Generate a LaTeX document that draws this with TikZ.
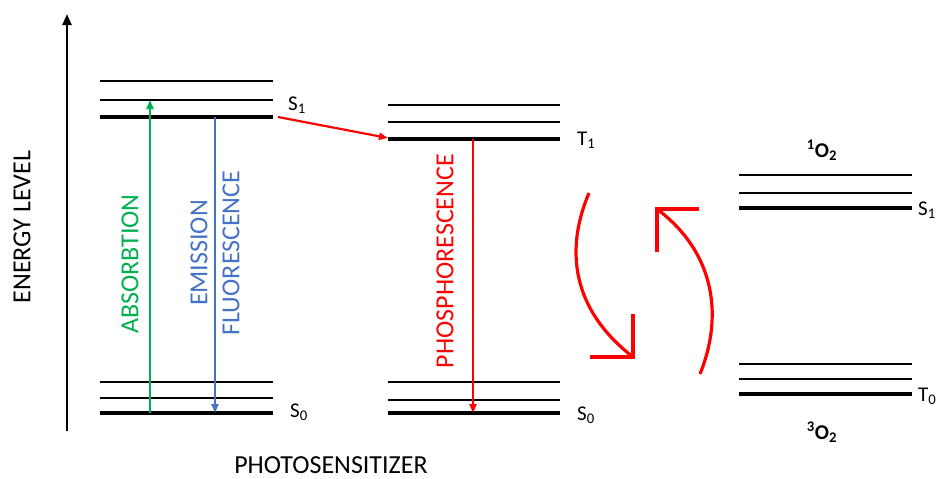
\documentclass[tikz,border=0pt]{standalone}
\usepackage{fontspec}
\setmainfont{Carlito}
\usetikzlibrary{arrows.meta}
\definecolor{absgreen}{RGB}{0,176,80}
\definecolor{emblue}{RGB}{68,114,196}
\definecolor{pred}{RGB}{255,0,0}
\begin{document}
\begin{tikzpicture}[x=1pt,y=-1pt,
  thinlvl/.style={line width=1.7pt},
  thicklvl/.style={line width=3.1pt},
  biglabel/.style={font=\fontsize{26}{32}\selectfont, inner sep=0pt},
  lvllabel/.style={font=\fontsize{21}{25}\selectfont, inner sep=0pt, anchor=base west},
  otwolabel/.style={font=\bfseries\fontsize{21}{25}\selectfont, inner sep=0pt, anchor=base},
  trans/.style={line width=2.2pt,-{Triangle[length=9pt,width=7pt]}},
  swirl/.style={line width=3.2pt, draw=pred, line join=miter, line cap=butt}]
\useasboundingbox (0,0) rectangle (938,479);

% energy axis
\coordinate (axbot) at (67,431);
\coordinate (axtop) at (67,14);
\draw[line width=2.2pt,-{Triangle[length=11pt,width=9pt]}] (axbot) -- (axtop);
\node[biglabel, rotate=90] (energy) at (22,227) {ENERGY LEVEL};

% photosensitizer singlet manifold
\draw[thinlvl] (100,81) -- (273,81);
\draw[thinlvl] (100,100) -- (273,100);
\draw[thicklvl] (100,117) -- (273,117);
\draw[thinlvl] (100,382) -- (273,382);
\draw[thinlvl] (100,398) -- (273,398);
\draw[thicklvl] (100,413) -- (273,413);
\node[lvllabel] (ps1) at (288,110) {S\textsubscript{1}};
\node[lvllabel] (ps0) at (290,417) {S\textsubscript{0}};

% triplet manifold
\draw[thinlvl] (388,105) -- (560,105);
\draw[thinlvl] (388,122) -- (560,122);
\draw[thicklvl] (388,139) -- (560,139);
\draw[thinlvl] (388,382) -- (560,382);
\draw[thinlvl] (388,400) -- (560,400);
\draw[thicklvl] (388,413) -- (560,413);
\node[lvllabel] (pt1) at (577,145) {T\textsubscript{1}};
\node[lvllabel] (ps0b) at (577,420) {S\textsubscript{0}};

% oxygen
\draw[thinlvl] (739,175) -- (912,175);
\draw[thinlvl] (739,193) -- (912,193);
\draw[thicklvl] (739,208) -- (912,208);
\draw[thinlvl] (739,364) -- (912,364);
\draw[thinlvl] (739,379) -- (912,379);
\draw[thicklvl] (739,394) -- (912,394);
\node[lvllabel] (os1) at (918,215) {S\textsubscript{1}};
\node[lvllabel] (ot0) at (918,401) {T\textsubscript{0}};
\node[otwolabel] (singletO) at (822,157) {\textsuperscript{1}O\textsubscript{2}};
\node[otwolabel] (tripletO) at (822,439) {\textsuperscript{3}O\textsubscript{2}};

% transitions
\coordinate (absA) at (150,413);
\coordinate (absB) at (150,100);
\draw[trans, absgreen] (absA) -- (absB);
\node[biglabel, rotate=90, text=absgreen] (abs) at (130,264) {ABSORBTION};

\coordinate (emA) at (215,117);
\coordinate (emB) at (215,413);
\draw[trans, emblue] (emA) -- (emB);
\node[biglabel, rotate=90, text=emblue, align=center] (em) at (215,253) {EMISSION\\FLUORESCENCE};

\coordinate (iscA) at (278,117);
\coordinate (iscB) at (388,138);
\draw[trans, pred] (iscA) -- (iscB);

\coordinate (phA) at (473,139);
\coordinate (phB) at (473,413);
\draw[trans, pred] (phA) -- (phB);
\node[biglabel, rotate=90, text=pred] (ph) at (445,261) {PHOSPHORESCENCE};

\node[biglabel] (photo) at (331,465) {PHOTOSENSITIZER};

% energy transfer swirl
\coordinate (dnA) at (589,193);
\coordinate (dnB) at (633,357);
\draw[swirl] (dnA) .. controls (568,242) and (566,305) .. (dnB);
\draw[swirl] (590,357) -- (dnB) -- (633,314);

\coordinate (upA) at (700,374);
\coordinate (upB) at (657,209);
\draw[swirl] (upA) .. controls (722,320) and (718,255) .. (upB);
\draw[swirl] (699,209) -- (upB) -- (657,252);
\end{tikzpicture}
\end{document}
